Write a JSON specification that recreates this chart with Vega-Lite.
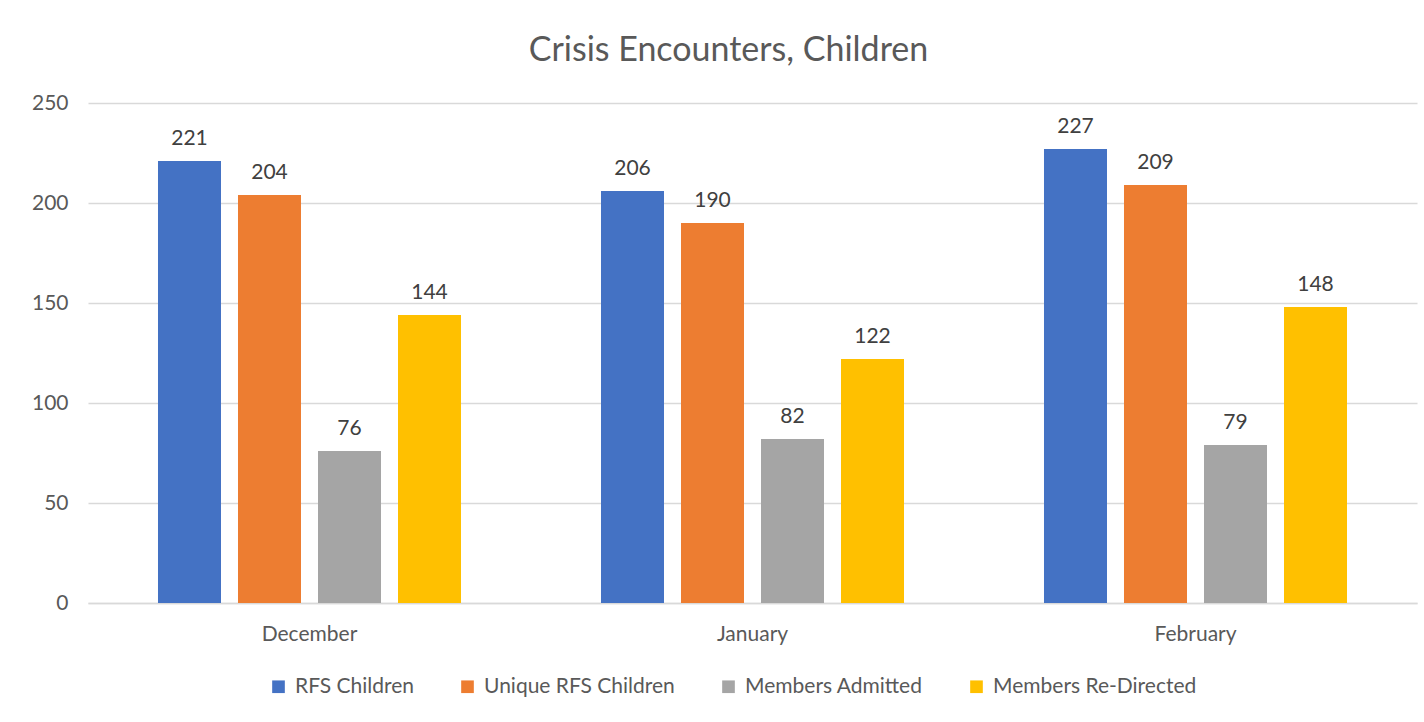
{
  "$schema": "https://vega.github.io/schema/vega-lite/v6.json",
  "autosize": {"type": "none"},
  "padding": {"left": 88, "top": 103, "right": 7, "bottom": 119},
  "width": 1329,
  "height": 500,
  "background": "white",
  "title": {
    "text": "Crisis Encounters, Children",
    "font": "Lato",
    "fontSize": 34,
    "fontWeight": "normal",
    "color": "#595959",
    "anchor": "middle",
    "dx": -24,
    "offset": 24
  },
  "data": {
    "values": [
      {"month": "December", "series": "RFS Children", "value": 221},
      {"month": "December", "series": "Unique RFS Children", "value": 204},
      {"month": "December", "series": "Members Admitted", "value": 76},
      {"month": "December", "series": "Members Re-Directed", "value": 144},
      {"month": "January", "series": "RFS Children", "value": 206},
      {"month": "January", "series": "Unique RFS Children", "value": 190},
      {"month": "January", "series": "Members Admitted", "value": 82},
      {"month": "January", "series": "Members Re-Directed", "value": 122},
      {"month": "February", "series": "RFS Children", "value": 227},
      {"month": "February", "series": "Unique RFS Children", "value": 209},
      {"month": "February", "series": "Members Admitted", "value": 79},
      {"month": "February", "series": "Members Re-Directed", "value": 148}
    ]
  },
  "encoding": {
    "x": {
      "field": "month",
      "type": "nominal",
      "sort": ["December", "January", "February"],
      "scale": {"paddingInner": 0.316, "paddingOuter": 0.158},
      "axis": {
        "title": null,
        "labelAngle": 0,
        "labelFont": "Lato",
        "labelFontSize": 21,
        "labelColor": "#595959",
        "labelPadding": 20,
        "ticks": false,
        "domain": true,
        "domainColor": "#d9d9d9",
        "domainWidth": 1.5,
        "grid": false
      }
    },
    "xOffset": {
      "field": "series",
      "type": "nominal",
      "sort": ["RFS Children", "Unique RFS Children", "Members Admitted", "Members Re-Directed"],
      "scale": {"paddingInner": 0.2125, "paddingOuter": 0}
    },
    "y": {
      "field": "value",
      "type": "quantitative",
      "scale": {"domain": [0, 250], "nice": false},
      "axis": {
        "title": null,
        "values": [0, 50, 100, 150, 200, 250],
        "labelFont": "Lato",
        "labelFontSize": 21,
        "labelColor": "#595959",
        "labelPadding": 20,
        "ticks": false,
        "domain": false,
        "grid": true,
        "gridColor": "#d9d9d9",
        "gridWidth": 1.5
      }
    }
  },
  "layer": [
    {
      "mark": {"type": "bar"},
      "encoding": {
        "color": {
          "field": "series",
          "type": "nominal",
          "sort": ["RFS Children", "Unique RFS Children", "Members Admitted", "Members Re-Directed"],
          "scale": {
            "domain": ["RFS Children", "Unique RFS Children", "Members Admitted", "Members Re-Directed"],
            "range": ["#4472C4", "#ED7D31", "#A5A5A5", "#FFC000"]
          },
          "legend": {
            "title": null,
            "orient": "none",
            "direction": "horizontal",
            "legendX": 180,
            "legendY": 573,
            "symbolType": "square",
            "symbolSize": 160,
            "symbolStrokeWidth": 0,
            "labelFont": "Lato",
            "labelFontSize": 21,
            "labelColor": "#595959",
            "labelOffset": 6,
            "labelLimit": 0,
            "columnPadding": 43
          }
        }
      }
    },
    {
      "mark": {
        "type": "text",
        "baseline": "bottom",
        "dy": -12,
        "font": "Lato",
        "fontSize": 21,
        "color": "#404040"
      },
      "encoding": {
        "text": {"field": "value", "type": "quantitative"}
      }
    }
  ],
  "config": {
    "view": {"stroke": null}
  }
}
